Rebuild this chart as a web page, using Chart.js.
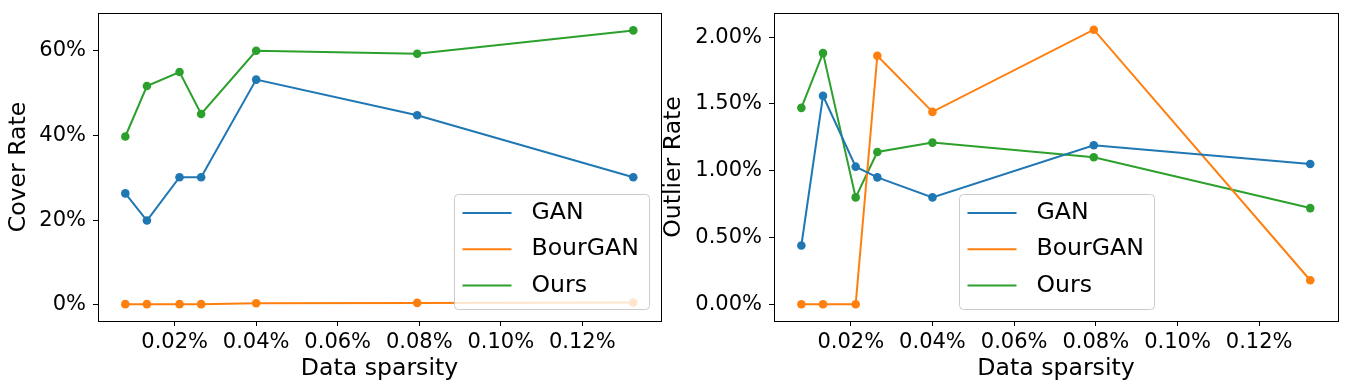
<!DOCTYPE html>
<html>
<head>
<meta charset="utf-8">
<script src="https://cdn.jsdelivr.net/npm/chart.js@4/dist/chart.umd.min.js"></script>
<style>
  html, body { margin: 0; padding: 0; background: #fff; }
  #wrap { position: relative; width: 1351px; height: 392px; overflow: hidden; }
  canvas { position: absolute; top: 0; }
</style>
</head>
<body>
<div id="wrap">
  <canvas id="cover" style="left:0px;width:675px;height:392px" width="675" height="392"></canvas>
  <canvas id="outlier" style="left:650px;width:701px;height:392px" width="701" height="392"></canvas>
</div>
<script>
// data sparsity (%) for each run
const sparsity = [0.0079, 0.0132, 0.0212, 0.0265, 0.04, 0.0795, 0.1325];
const xTicks = [0.02, 0.04, 0.06, 0.08, 0.10, 0.12];

// cover rate (%)
const coverGAN     = [26.3, 19.9, 30.1, 30.1, 53.1, 44.7, 30.1];
const coverBourGAN = [0.2, 0.2, 0.2, 0.2, 0.4, 0.5, 0.6];
const coverOurs    = [39.7, 51.6, 54.9, 45.0, 59.9, 59.2, 64.7];
const coverTicks   = [0, 20, 40, 60];

// outlier rate (%)
const outlierGAN     = [0.44, 1.56, 1.03, 0.95, 0.80, 1.19, 1.05];
const outlierBourGAN = [0, 0, 0, 1.86, 1.44, 2.055, 0.18];
const outlierOurs    = [1.47, 1.88, 0.80, 1.14, 1.21, 1.10, 0.72];
const outlierTicks   = [0, 0.5, 1, 1.5, 2];

const seriesNames = ['GAN', 'BourGAN', 'Ours'];
const colors = ['#1f77b4', '#ff7f0e', '#2ca02c'];
const FONT = '"DejaVu Sans", sans-serif';

// matplotlib style frame around the plot area
const frame = {
  id: 'frame',
  afterDatasetsDraw(chart) {
    const { ctx, chartArea: a } = chart;
    ctx.save();
    ctx.strokeStyle = '#000';
    ctx.lineWidth = 1;
    ctx.strokeRect(Math.round(a.left) + 0.5, Math.round(a.top) + 0.5,
                   Math.round(a.right - a.left), Math.round(a.bottom - a.top));
    ctx.restore();
  }
};

// legend box drawn inside the plot area
const boxLegend = {
  id: 'boxLegend',
  afterDraw(chart, args, opts) {
    const { ctx, chartArea: a } = chart;
    const w = 195, h = 115;
    const x = Math.round(opts.align === 'center' ? (a.left + a.right) / 2 - w / 2 : a.right - 12 - w);
    const y = Math.round(a.bottom - 12 - h);
    ctx.save();
    ctx.beginPath();
    ctx.roundRect(x + 0.5, y + 0.5, w, h, 4);
    ctx.fillStyle = 'rgba(255,255,255,0.8)';
    ctx.fill();
    ctx.strokeStyle = '#cccccc';
    ctx.lineWidth = 1;
    ctx.stroke();
    ctx.font = '23.6px ' + FONT;
    ctx.textBaseline = 'middle';
    chart.data.datasets.forEach((ds, i) => {
      const ry = y + 19 + i * 36.2;
      ctx.strokeStyle = ds.borderColor;
      ctx.lineWidth = 2;
      ctx.beginPath();
      ctx.moveTo(x + 8.5, ry);
      ctx.lineTo(x + 57.5, ry);
      ctx.stroke();
      ctx.fillStyle = '#000';
      ctx.fillText(ds.label, x + 77.5, ry);
    });
    ctx.restore();
  }
};

function makeDatasets(series) {
  return series.map((vals, i) => ({
    label: seriesNames[i],
    data: sparsity.map((s, j) => ({ x: s, y: vals[j] })),
    borderColor: colors[i],
    backgroundColor: colors[i],
    borderWidth: 2,
    pointRadius: 4.3,
    pointBorderWidth: 0,
    tension: 0
  }));
}

function makeChart(id, series, cfg) {
  return new Chart(document.getElementById(id), {
    type: 'line',
    data: { datasets: makeDatasets(series) },
    options: {
      responsive: false,
      animation: false,
      devicePixelRatio: 1,
      layout: { padding: { top: 13, right: cfg.padRight, bottom: 0, left: 0 } },
      plugins: {
        legend: { display: false },
        tooltip: { enabled: false },
        boxLegend: { align: cfg.legendAlign }
      },
      scales: {
        x: {
          type: 'linear',
          min: 0.0012,
          max: 0.1393,
          afterBuildTicks: s => { s.ticks = xTicks.map(v => ({ value: v })); },
          afterFit: s => { s.height = 71; s.paddingLeft = 0; s.paddingRight = 0; },
          ticks: {
            autoSkip: false, maxRotation: 0, padding: 4, color: '#000',
            font: { family: FONT, size: 21 },
            callback: v => v.toFixed(2) + '%'
          },
          grid: { drawOnChartArea: false, drawTicks: true, tickLength: 5, color: '#000' },
          border: { display: false },
          title: { display: true, text: 'Data sparsity', color: '#000',
                   font: { family: FONT, size: 23.6 }, padding: { top: 0, bottom: 9 } }
        },
        y: {
          min: cfg.yMin,
          max: cfg.yMax,
          afterBuildTicks: s => { s.ticks = cfg.yTicks.map(v => ({ value: v })); },
          afterFit: s => { s.width = cfg.yWidth; s.paddingTop = 0; s.paddingBottom = 0; },
          ticks: {
            padding: 7, color: '#000',
            font: { family: FONT, size: 21 },
            callback: cfg.fmt
          },
          grid: { drawOnChartArea: false, drawTicks: true, tickLength: 5, color: '#000' },
          border: { display: false },
          title: { display: true, text: cfg.yTitle, color: '#000',
                   font: { family: FONT, size: 23.6 }, padding: { top: cfg.titlePad, bottom: 0 } }
        }
      }
    },
    plugins: [frame, boxLegend]
  });
}

makeChart('cover', [coverGAN, coverBourGAN, coverOurs], {
  yMin: -3.77, yMax: 68.8, yTicks: coverTicks, yTitle: 'Cover Rate',
  fmt: v => v + '%', yWidth: 98, padRight: 14, titlePad: 5, legendAlign: 'right'
});

makeChart('outlier', [outlierGAN, outlierBourGAN, outlierOurs], {
  yMin: -0.125, yMax: 2.18, yTicks: outlierTicks, yTitle: 'Outlier Rate',
  fmt: v => v.toFixed(2) + '%', yWidth: 124, padRight: 13, titlePad: 10, legendAlign: 'center'
});
</script>
</body>
</html>
